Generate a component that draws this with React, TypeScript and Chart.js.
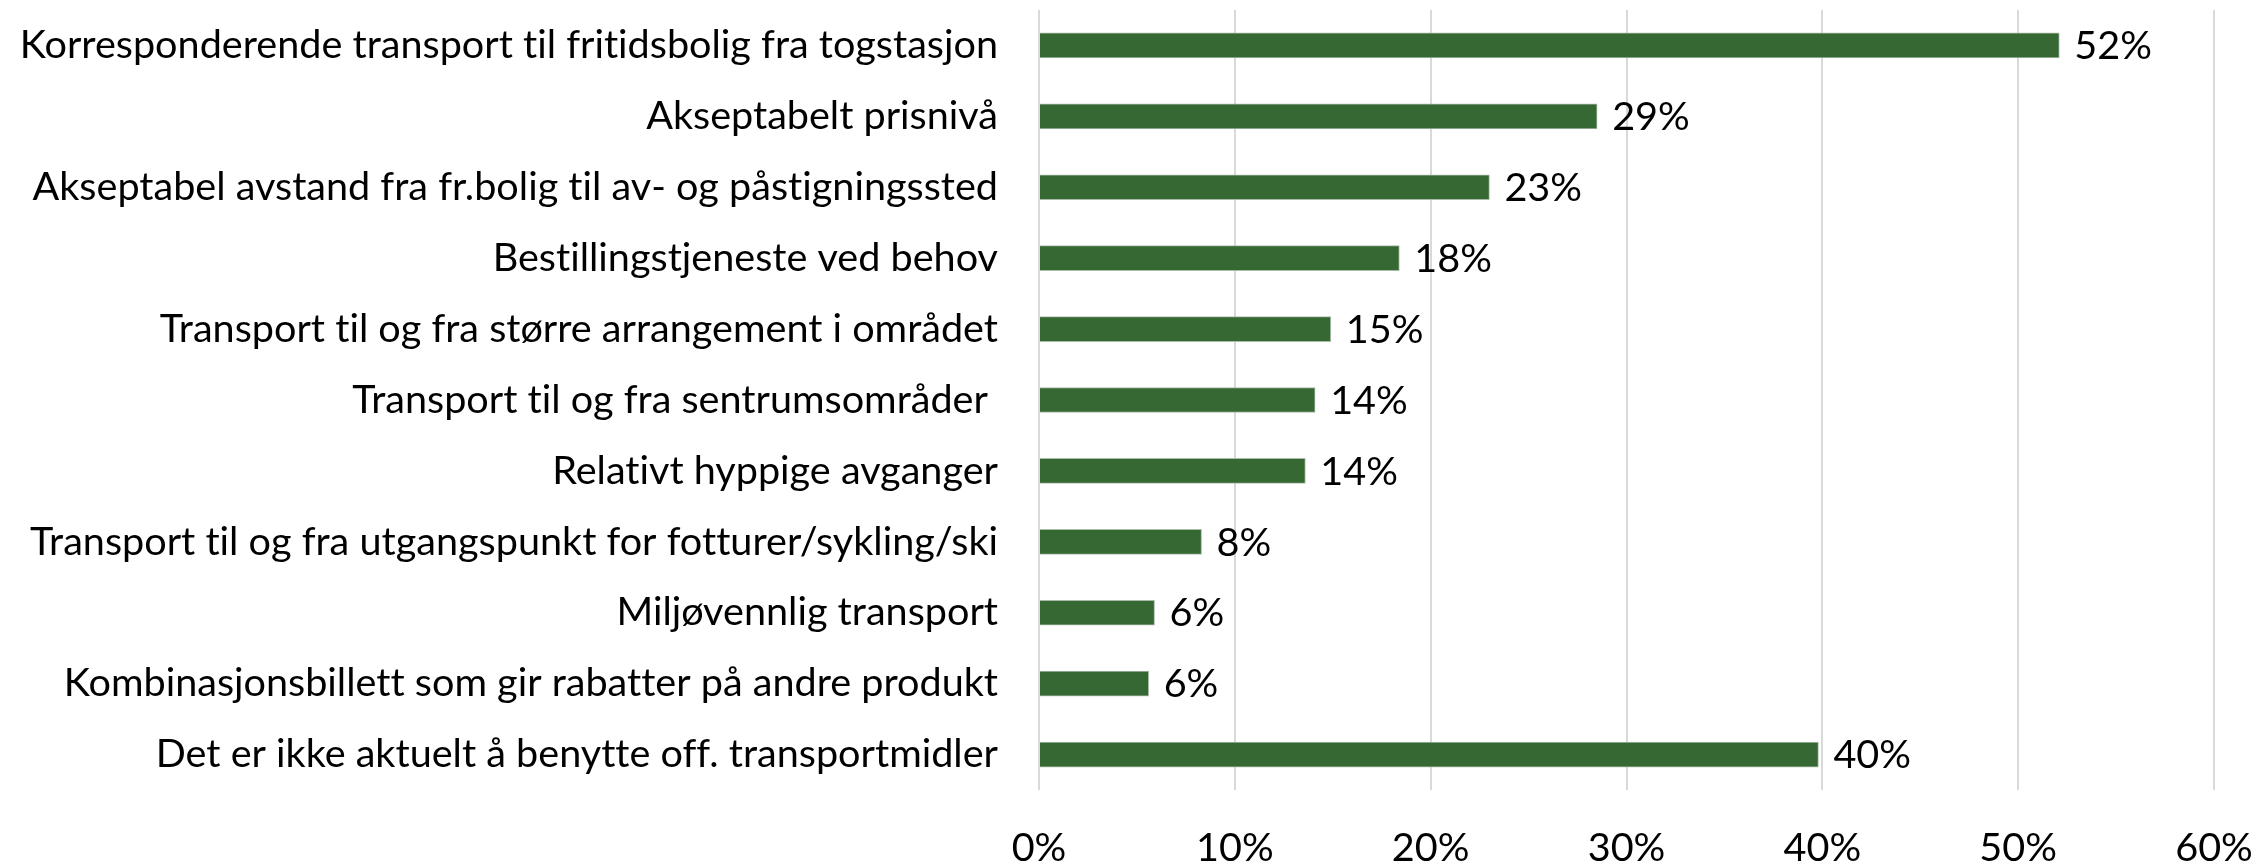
import React, { useEffect, useRef } from "react";
import { Chart, registerables } from "chart.js";

Chart.register(...registerables);

const categories: string[] = [
  "Korresponderende transport til fritidsbolig fra togstasjon",
  "Akseptabelt prisnivå",
  "Akseptabel avstand fra fr.bolig til av- og påstigningssted",
  "Bestillingstjeneste ved behov",
  "Transport til og fra større arrangement i området",
  "Transport til og fra sentrumsområder ",
  "Relativt hyppige avganger",
  "Transport til og fra utgangspunkt for fotturer/sykling/ski",
  "Miljøvennlig transport",
  "Kombinasjonsbillett som gir rabatter på andre produkt",
  "Det er ikke aktuelt å benytte off. transportmidler",
];

const values: number[] = [52.1, 28.5, 23.0, 18.4, 14.9, 14.1, 13.6, 8.3, 5.9, 5.6, 39.8];

const xTicks: number[] = [0, 10, 20, 30, 40, 50, 60];

const FONT_FAMILY = "Lato, 'Noto Sans', sans-serif";

function fitFontSize(): number {
  const c = document.createElement("canvas");
  const ctx = c.getContext("2d")! as any;
  ctx.textRendering = "optimizeSpeed";
  ctx.font = `100px ${FONT_FAMILY}`;
  const w = ctx.measureText(categories[0]).width;
  return Math.round((100 * 980) / w * 10) / 10;
}

export default function App() {
  const ref = useRef<HTMLCanvasElement | null>(null);

  useEffect(() => {
    document.body.style.margin = "0";
    const canvas = ref.current!;
    const size = fitFontSize();

    const noLigatures = {
      id: "noLigatures",
      beforeInit(chart: any) {
        chart.ctx.textRendering = "optimizeSpeed";
      },
      beforeDraw(chart: any) {
        chart.ctx.textRendering = "optimizeSpeed";
      },
    };

    const labelPlugin = {
      id: "barValueLabels",
      afterDatasetsDraw(chart: any) {
        const ctx = chart.ctx;
        const meta = chart.getDatasetMeta(0);
        ctx.save();
        ctx.font = `${size}px ${FONT_FAMILY}`;
        ctx.fillStyle = "#000";
        ctx.textAlign = "left";
        ctx.textBaseline = "middle";
        meta.data.forEach((el: any, i: number) => {
          ctx.fillText(`${Math.round(values[i])}%`, el.x + 15, el.y + 1);
        });
        ctx.restore();
      },
    };

    const chart = new Chart(canvas, {
      type: "bar",
      data: {
        labels: categories,
        datasets: [
          {
            data: values,
            backgroundColor: "#366834",
            borderColor: "#a9bba8",
            borderWidth: 1,
            barThickness: 25,
          },
        ],
      },
      options: {
        indexAxis: "y",
        responsive: false,
        animation: false,
        layout: { padding: { top: 10, right: 43, left: 0, bottom: 0 } },
        plugins: {
          legend: { display: false },
          tooltip: { enabled: false },
        },
        scales: {
          x: {
            type: "linear",
            min: 0,
            max: 60,
            afterBuildTicks: (scale: any) => {
              scale.ticks = xTicks.map((v) => ({ value: v }));
            },
            afterFit: (scale: any) => {
              scale.height = 72;
              scale.paddingLeft = 0;
              scale.paddingRight = 0;
            },
            grid: {
              color: "#d9d9d9",
              lineWidth: 2,
              drawTicks: false,
            },
            border: { display: false },
            ticks: {
              color: "#000",
              font: { family: FONT_FAMILY, size },
              padding: 34,
              callback: (v: any) => `${v}%`,
              maxRotation: 0,
            },
          },
          y: {
            afterFit: (scale: any) => {
              scale.width = 1039;
              scale.paddingTop = 0;
              scale.paddingBottom = 0;
            },
            grid: { display: false, drawTicks: false },
            border: { display: false },
            ticks: {
              color: "#000",
              font: { family: FONT_FAMILY, size },
              padding: 41,
            },
          },
        },
      },
      plugins: [noLigatures, labelPlugin],
    });

    return () => chart.destroy();
  }, []);

  return (
    <div style={{ width: 2257, height: 862, background: "#fff" }}>
      <canvas ref={ref} width={2257} height={862} style={{ display: "block" }} />
    </div>
  );
}
